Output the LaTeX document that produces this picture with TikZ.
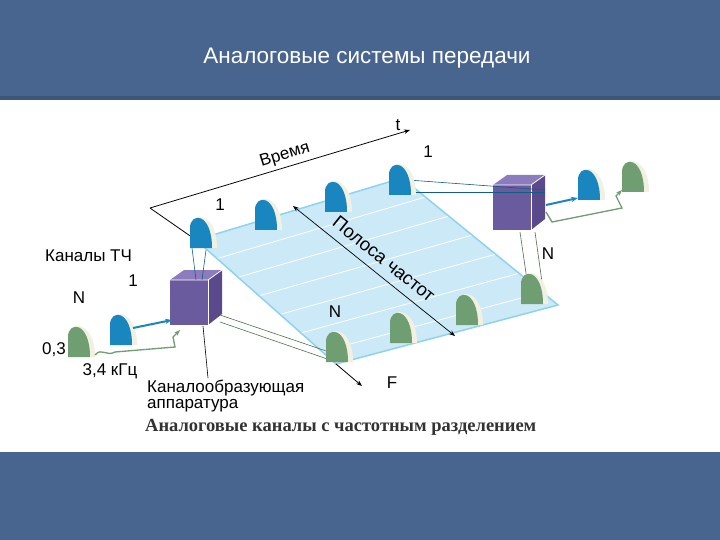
\documentclass[tikz,border=0pt]{standalone}
\usepackage{fontspec}
\setmainfont{Liberation Sans}
\newfontfamily\capfont{Liberation Serif}
\usetikzlibrary{arrows.meta,calc}
\definecolor{slide}{HTML}{47658F}
\definecolor{hblue}{HTML}{1A86C0}
\definecolor{hgreen}{HTML}{6E9E72}
\definecolor{plane}{HTML}{CBE9F7}
\definecolor{pedge}{HTML}{8DD3F0}
\definecolor{cubef}{HTML}{6A5A9E}
\definecolor{cubet}{HTML}{8C7CBE}
\definecolor{cubes}{HTML}{5A4A8C}
\definecolor{rim}{HTML}{F2F0E0}
\tikzset{
  lbl/.style={font=\fontsize{17}{18}\selectfont, inner sep=0pt},
  beam/.style={draw=hgreen!70!black, line width=0.6pt},
  bbeam/.style={draw=hblue!70!black, line width=0.6pt},
  pxl/.style={x=1pt,y=-1pt}
}
\newcommand{\hump}[3]{% x,y (bottom-left), colour
  \fill[rim] (#1,#2) -- (#1,#2-20) .. controls (#1,#2-37) and (#1+27,#2-37) .. (#1+27,#2) -- cycle;
  \fill[#3] (#1,#2) -- (#1,#2-20) .. controls (#1,#2-36) and (#1+22,#2-36) .. (#1+22,#2) -- cycle;
}
\newcommand{\cube}[2]{% x,y top-left of front
  \fill[cubef] (#1,#2+10) rectangle (#1+38,#2+55);
  \fill[cubet] (#1,#2+10) -- (#1+14,#2) -- (#1+52,#2) -- (#1+38,#2+10) -- cycle;
  \fill[cubes] (#1+38,#2+10) -- (#1+52,#2) -- (#1+52,#2+44) -- (#1+38,#2+55) -- cycle;
  \draw[white,line width=0.8pt] (#1,#2+10) -- (#1+38,#2+10) -- (#1+52,#2);
  \draw[white,line width=0.8pt] (#1+38,#2+10) -- (#1+38,#2+55);
}
\begin{document}
\begin{tikzpicture}[pxl]
\useasboundingbox (0,0) rectangle (720,540);
\fill[slide] (0,0) rectangle (720,540);
\fill[slide!85!black] (0,96) rectangle (720,100);
\fill[white] (0,100) rectangle (720,452);
\node[text=white, font=\fontsize{22.5}{24}\selectfont] (title) at (367,58) {Аналоговые системы передачи};

% plane
\coordinate (TL) at (196,240);
\coordinate (TR) at (402,178);
\coordinate (BR) at (558,305);
\coordinate (BL) at (336,364);
\fill[plane] (TL) -- (TR) -- (BR) -- (BL) -- cycle;
\foreach \t in {0.15,0.3,0.45,0.6,0.75,0.9}
  \draw[white, line width=0.8pt] ($(TL)!\t!(BL)$) -- ($(TR)!\t!(BR)$);
\draw[pedge, line width=1.5pt] (TL) -- (TR) -- (BR) -- (BL) -- cycle;

% axes
\coordinate (O) at (150,208);
\coordinate (tend) at (410,130);
\coordinate (fend) at (362,386);
\draw[line width=0.8pt, -{Stealth[length=6pt]}] (O) -- (tend);
\draw[line width=0.8pt] (O) -- (TL);
\draw[line width=0.8pt, -{Stealth[length=6pt]}] (BL) -- (fend);
\node[lbl, rotate=17] (vr) at (285,155) {Время};
\node[lbl] (tl) at (398,125) {t};
\node[lbl] (fl) at (392,383) {F};

% band arrow
\coordinate (pa) at (293,206);
\coordinate (pb) at (455,336);
\draw[line width=0.7pt, {Stealth[length=6pt]}-{Stealth[length=6pt]}] (pa) -- (pb);
\node[lbl, font=\fontsize{18.5}{20}\selectfont, rotate=-38.7] (pol) at (384,259) {Полоса частот};

% cubes
\cube{170}{270}
\cube{493}{175}

% beams
\draw[bbeam] (196,280) -- (192,248);
\draw[bbeam] (202,280) -- (206,250);
\draw[beam] (220,315) -- (338,355);
\draw[beam] (220,322) -- (336,362);
\draw[bbeam] (545,190) -- (408,180);
\draw[bbeam] (545,192) -- (412,192);
\draw[beam] (520,232) -- (527,280);
\draw[beam] (535,232) -- (542,282);

% humps on plane
\hump{190}{248}{hblue}
\hump{255}{230}{hblue}
\hump{325}{212}{hblue}
\hump{389}{195}{hblue}
\hump{326}{362}{hgreen}
\hump{390}{343}{hgreen}
\hump{456}{325}{hgreen}
\hump{521}{304}{hgreen}

% left inputs
\hump{68}{357}{hgreen}
\hump{110}{345}{hblue}
\draw[hblue, line width=2pt, -{Stealth[length=7pt]}] (133,328) -- (172,320);
\draw[hgreen, line width=1.3pt, -{Stealth[length=6pt]}] (95,355) .. controls (102,347) and (106,357) .. (115,352) -- (175,347) -- (173,337) -- (180,330);

% right outputs
\hump{578}{200}{hblue}
\hump{622}{192}{hgreen}
\draw[hblue, line width=2pt, -{Stealth[length=7pt]}] (546,205) -- (578,198);
\draw[hgreen, line width=1.3pt, -{Stealth[length=6pt]}] (546,212) -- (552,222) -- (622,208) -- (616,196) -- (622,190);

% labels
\node[lbl, anchor=west] (kt) at (45,256) {Каналы ТЧ};
\node[lbl] (k1) at (133,281) {1};
\node[lbl] (kN) at (79,298) {N};
\node[lbl] (k03) at (54,350) {0,3};
\node[lbl] (k34) at (110,371) {3,4 кГц};
\node[lbl] (p1) at (220,205) {1};
\node[lbl] (p2) at (428,152) {1};
\node[lbl] (pN) at (335,312) {N};
\node[lbl] (pN2) at (548,254) {N};
\coordinate (lc) at (203,326);
\draw[line width=0.6pt] (lc) -- (208,378);
\node[lbl, anchor=west, align=left] (kapp) at (147,396) {Каналообразующая\\[-2pt]аппаратура};
\node[anchor=west, inner sep=0pt, font=\capfont\bfseries\fontsize{18.5}{20}\selectfont, text=black!80] (cap) at (145,427) {Аналоговые каналы с частотным разделением};
\end{tikzpicture}
\end{document}
